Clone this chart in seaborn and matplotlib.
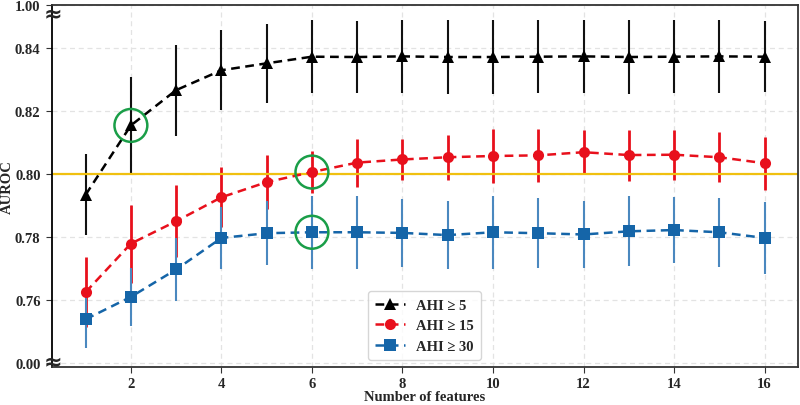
import numpy as np
import pandas as pd
import matplotlib
matplotlib.use("Agg")
import matplotlib.pyplot as plt
import matplotlib.transforms as mtransforms
import seaborn as sns

features = list(range(1, 17))
ahi5_mean = [0.7935, 0.8155, 0.8267, 0.8330, 0.8352, 0.8373, 0.8372, 0.8374,
             0.8372, 0.8372, 0.8373, 0.8374, 0.8372, 0.8373, 0.8374, 0.8373]
ahi5_err = [0.0128, 0.0155, 0.0144, 0.0127, 0.0125, 0.0115, 0.0115, 0.0115,
            0.0116, 0.0117, 0.0116, 0.0116, 0.0116, 0.0116, 0.0116, 0.0112]
ahi15_mean = [0.7626, 0.7780, 0.7851, 0.7927, 0.7975, 0.8007, 0.8037, 0.8047,
              0.8054, 0.8058, 0.8060, 0.8070, 0.8061, 0.8062, 0.8054, 0.8035]
ahi15_err = [0.0110, 0.0124, 0.0114, 0.0095, 0.0085, 0.0066, 0.0076, 0.0065,
             0.0072, 0.0085, 0.0083, 0.0069, 0.0081, 0.0079, 0.0079, 0.0084]
ahi30_mean = [0.7540, 0.7611, 0.7698, 0.7798, 0.7813, 0.7816, 0.7816, 0.7814,
              0.7807, 0.7816, 0.7813, 0.7809, 0.7819, 0.7823, 0.7816, 0.7798]
ahi30_err = [0.0091, 0.0091, 0.0100, 0.0098, 0.0102, 0.0115, 0.0115, 0.0108,
             0.0108, 0.0116, 0.0111, 0.0105, 0.0111, 0.0104, 0.0110, 0.0114]
series_labels = ["AHI \u2265 5", "AHI \u2265 15", "AHI \u2265 30"]
threshold = 0.80
highlight_x = [2, 6, 6]
highlight_y = [0.8155, 0.8007, 0.7816]
y_ticks = [0.74, 0.76, 0.78, 0.80, 0.82, 0.84, 0.8537]
y_ticklabels = ["0.00", "0.76", "0.78", "0.80", "0.82", "0.84", "1.00"]
x_ticks = [2, 4, 6, 8, 10, 12, 14, 16]

sns.set_style("white")
plt.rcParams["font.family"] = ["Liberation Serif", "DejaVu Serif"]
plt.rcParams["font.weight"] = "bold"

fig = plt.figure(figsize=(8.0, 4.06), dpi=100)
ax = fig.add_axes([0.0646, 0.0924, 0.9324, 0.8928])

colors = ["#000000", "#E8101C", "#1565A8"]
ecolors = ["#111111", "#E8101C", "#4A88BF"]
markers = ["^", "o", "s"]
means = [ahi5_mean, ahi15_mean, ahi30_mean]
errs = [ahi5_err, ahi15_err, ahi30_err]
elw = [1.5, 2.0, 1.5]

for m, e, lab, c, ec, mk, lw in zip(means, errs, series_labels, colors, ecolors, markers, elw):
    ax.errorbar(features, m, yerr=e, fmt="none", ecolor=ec, elinewidth=lw, capsize=0, zorder=2)
    df = pd.DataFrame({"x": features, "y": m})
    sns.lineplot(data=df, x="x", y="y", ax=ax, color=c, marker=mk, markersize=8,
                 markeredgewidth=0, linestyle=(0, (3.5, 2.2)), linewidth=1.8,
                 label=lab, zorder=3)

ax.axhline(threshold, color="#F0C010", lw=1.6, zorder=2.5)
ax.scatter(highlight_x, highlight_y, s=560, facecolors="none", edgecolors="#1A9E48",
           linewidths=1.8, zorder=5)

ax.set_xlim(0.25, 16.73)
ax.set_ylim(0.7387, 0.8537)
ax.set_xticks(x_ticks)
ax.set_yticks(y_ticks)
ax.set_yticklabels(y_ticklabels)
ax.grid(True, linestyle=(0, (4, 3)), color="#E3E3E3", linewidth=0.9)
ax.tick_params(axis="both", labelsize=10.5, length=4, width=0.8, color="#333333",
               direction="out", left=True, bottom=True, pad=2.5)
ax.tick_params(axis="y", pad=4)
for t in ax.get_xticklabels() + ax.get_yticklabels():
    t.set_fontweight("bold")
for s in ["left", "right", "top", "bottom"]:
    ax.spines[s].set_color("#333333")
    ax.spines[s].set_linewidth(1.3)
ax.spines["left"].set_color("#000000")

ax.set_xlabel("Number of features", fontsize=10.5, fontweight="bold", labelpad=0)
ax.set_ylabel("AUROC", fontsize=10.5, fontweight="bold", labelpad=1)

# axis break markers
trans = mtransforms.blended_transform_factory(ax.transAxes, ax.transData)
for yb in [0.8512, 0.7408]:
    ax.text(0.002, yb, "\u2248", transform=trans, ha="center", va="center",
            fontsize=16, fontweight="bold", family=["DejaVu Sans"], clip_on=False, zorder=6)

leg = ax.legend(loc="lower center", bbox_to_anchor=(0.5, 0.0), fontsize=10.5,
                frameon=True, handlelength=2.0, borderpad=0.5, labelspacing=0.5,
                handletextpad=0.8)
leg.get_frame().set_edgecolor("#CCCCCC")
for t in leg.get_texts():
    t.set_fontweight("bold")

fig.savefig("out.png", dpi=100)
